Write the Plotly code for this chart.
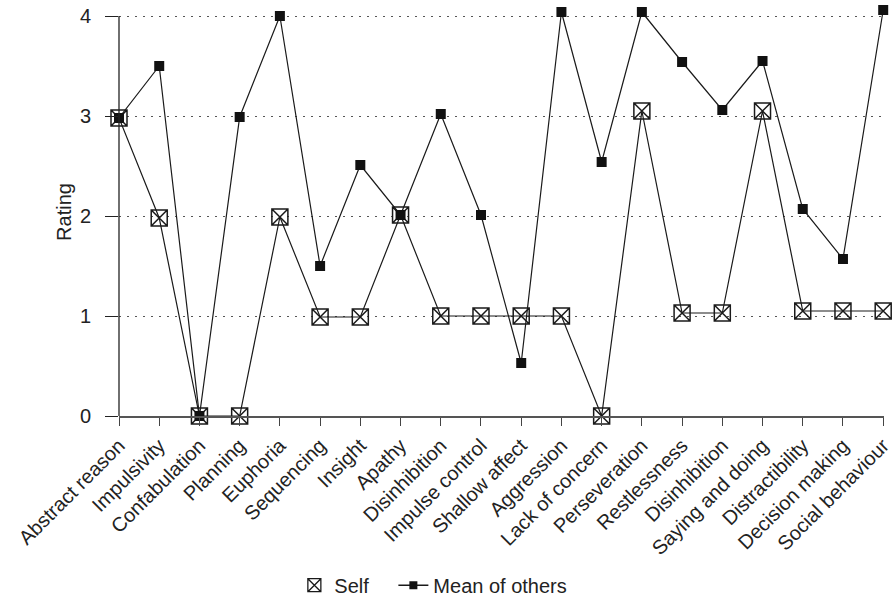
import plotly.graph_objects as go

# Rated behaviours (Disinhibition appears twice, so a numeric axis with tick text is used)
categories = [
    "Abstract reason", "Impulsivity", "Confabulation", "Planning", "Euphoria",
    "Sequencing", "Insight", "Apathy", "Disinhibition", "Impulse control",
    "Shallow affect", "Aggression", "Lack of concern", "Perseveration",
    "Restlessness", "Disinhibition", "Saying and doing", "Distractibility",
    "Decision making", "Social behaviour",
]

self_rating = [2.98, 1.98, 0, 0, 1.99, 0.99, 0.99, 2.01, 1.0, 1.0,
               1.0, 1.0, 0, 3.05, 1.03, 1.03, 3.05, 1.05, 1.05, 1.05]

mean_of_others = [2.98, 3.5, 0, 2.99, 4.0, 1.5, 2.51, 2.01, 3.02, 2.01,
                  0.53, 4.04, 2.54, 4.04, 3.54, 3.06, 3.55, 2.07, 1.57, 4.06]

y_ticks = [0, 1, 2, 3, 4]
y_max = 4.08  # a little headroom so the highest points are not clipped

positions = list(range(len(categories)))
FONT = "Liberation Sans, Arial, Helvetica, sans-serif"
INK = "#1a1a1a"
TEXT = "#222222"

fig = go.Figure()

fig.add_trace(go.Scatter(
    x=positions, y=self_rating, mode="lines+markers", name="Self",
    line=dict(color=INK, width=1.2),
    marker=dict(symbol="square-x-open", size=16, color=INK, line=dict(width=1.5, color=INK)),
    cliponaxis=False, showlegend=False,
))
fig.add_trace(go.Scatter(
    x=positions, y=mean_of_others, mode="lines+markers", name="Mean of others",
    line=dict(color=INK, width=1.2),
    marker=dict(symbol="square", size=10, color="#111111"),
    cliponaxis=False, showlegend=False,
))

# legend entries: Self shows just its marker, Mean of others a line with marker
fig.add_trace(go.Scatter(
    x=[None], y=[None], mode="markers", name="Self", legend="legend",
    marker=dict(symbol="square-x-open", size=13, color=INK, line=dict(width=1.3, color=INK)),
))
fig.add_trace(go.Scatter(
    x=[None], y=[None], mode="lines+markers", name="Mean of others", legend="legend2",
    line=dict(color=INK, width=1.5),
    marker=dict(symbol="square", size=8, color="#111111"),
))

legend_common = dict(
    orientation="h", xref="container", yref="container",
    y=0.023, xanchor="left", yanchor="middle",
    font=dict(size=20, color=TEXT), bgcolor="rgba(0,0,0,0)",
)

fig.update_layout(
    width=892, height=599,
    margin=dict(l=119, r=8, t=8, b=183),
    paper_bgcolor="white", plot_bgcolor="white",
    font=dict(family=FONT, size=20, color=TEXT),
    showlegend=True,
    legend=dict(x=0.330, **legend_common),
    legend2=dict(x=0.441, **legend_common),
    xaxis=dict(
        range=[0, 19.02], tickmode="array", tickvals=positions, ticktext=categories,
        tickangle=-45, ticks="outside", ticklen=8, tickwidth=1, tickcolor="#444444",
        ticklabeloverflow="allow", automargin=False,
        showline=True, linecolor="#555555", linewidth=2,
        showgrid=False, zeroline=False,
        tickfont=dict(size=20, color=TEXT),
    ),
    yaxis=dict(
        range=[0, y_max], tickmode="array", tickvals=y_ticks,
        ticks="outside", ticklen=13, tickwidth=1, tickcolor="#222222",
        ticklabelstandoff=10, automargin=False,
        showline=False,
        showgrid=True, gridcolor="#555555", gridwidth=1, griddash="2px,6px",
        zeroline=False,
        title=dict(text="Rating", standoff=2, font=dict(size=20, color=TEXT)),
        tickfont=dict(size=20, color=TEXT),
    ),
    # vertical axis line only spans the rating scale
    shapes=[dict(type="line", xref="paper", yref="y", x0=0, x1=0,
                 y0=y_ticks[0], y1=y_ticks[-1], line=dict(color="#222222", width=1.3))],
)

fig.write_html("out.html")
